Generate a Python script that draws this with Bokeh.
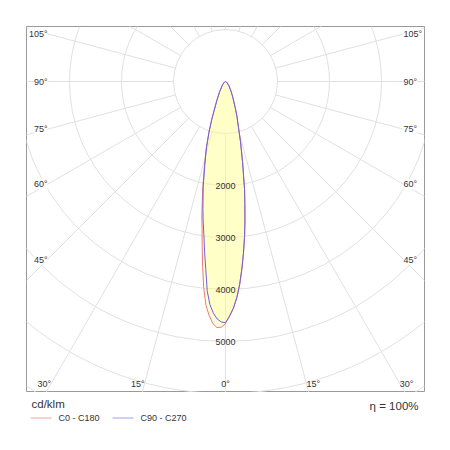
import math
from bokeh.plotting import figure
from bokeh.layouts import column
from bokeh.models import Range1d
from bokeh.core.properties import value
from bokeh.embed import file_html
from bokeh.resources import INLINE

# polar intensity curves, cd/klm, gamma measured from nadir
gamma = [0, 1, 2, 3, 4, 5, 6, 7, 8, 9, 10, 12, 14, 16, 18, 20, 25, 30, 40, 50, 60, 70, 80, 90]
i_c0 = [4650, 4515, 4365, 4165, 3915, 3620, 3315, 3010, 2695, 2380, 2115, 1580, 1195, 895, 722, 562, 332, 212, 96, 45, 20, 8, 3, 0]
i_c180 = [4660, 4725, 4735, 4660, 4510, 4320, 4000, 3600, 3220, 2880, 2620, 2110, 1670, 1350, 1040, 775, 385, 222, 96, 45, 20, 8, 3, 0]
i_c90 = [4640, 4510, 4360, 4160, 3910, 3615, 3310, 3005, 2690, 2375, 2110, 1575, 1190, 890, 720, 560, 330, 210, 95, 45, 20, 8, 3, 0]
i_c270 = [4640, 4625, 4570, 4460, 4300, 4040, 3630, 3300, 2985, 2740, 2505, 2065, 1640, 1330, 1025, 765, 380, 220, 95, 45, 20, 8, 3, 0]

rings = [1000, 2000, 3000, 4000, 5000, 6000, 7000]
ring_labels = [2000, 3000, 4000, 5000]
side_angles = [45, 60, 75, 90, 105]
bottom_angles = [0, 15, 30]
curve_names = ["C0 - C180", "C90 - C270"]
curve_colors = ["#f07878", "#6f5fe0"]
legend_colors = ["#f4a0a0", "#a0a0f0"]
eta_text = "\u03b7 = 100%"
unit_text = "cd/klm"

PX = 1000 / 52.0  # data units per pixel
FONT = "Liberation Sans"
GRID = "#e0e0e0"
TXT = "#333333"


def half(values, sign):
    xs, ys = [], []
    for g, v in zip(gamma, values):
        a = math.radians(g)
        xs.append(sign * v * math.sin(a))
        ys.append(-v * math.cos(a))
    return xs, ys


def closed(left, right):
    lx, ly = half(left, -1)
    rx, ry = half(right, 1)
    return lx[::-1] + rx, ly[::-1] + ry


p = figure(frame_width=398, frame_height=366, output_backend="svg", toolbar_location=None,
           x_axis_location=None, y_axis_location=None,
           x_range=Range1d(-199 * PX, 199 * PX), y_range=Range1d(-311 * PX, 55 * PX),
           min_border_left=26, min_border_right=18, min_border_top=26, min_border_bottom=0)
p.grid.visible = False
p.outline_line_color = "#999999"
p.outline_line_width = 1

# grid: rays every 15 degrees, starting at the first ring
ray_xs, ray_ys = [], []
for k in range(24):
    a = math.radians(k * 15)
    ray_xs.append([rings[0] * math.sin(a), 20000 * math.sin(a)])
    ray_ys.append([-rings[0] * math.cos(a), -20000 * math.cos(a)])
p.multi_line(ray_xs, ray_ys, line_color=GRID, line_width=1)
p.circle(x=[0] * len(rings), y=[0] * len(rings), radius=rings, fill_color=None,
         line_color=GRID, line_width=1)

# curves
x0, y0 = closed(i_c180, i_c0)
x90, y90 = closed(i_c270, i_c90)
p.patch(x0, y0, fill_color="#ffff80", fill_alpha=0.25, line_color=None)
p.patch(x90, y90, fill_color="#ffff80", fill_alpha=0.25, line_color=None)
p.line(x0, y0, line_color=curve_colors[0], line_width=1)
p.line(x90, y90, line_color=curve_colors[1], line_width=1)

# ring values
p.text(x=[0] * len(ring_labels), y=[-v for v in ring_labels], text=[str(v) for v in ring_labels],
       text_align="center", text_baseline="middle", text_font=value(FONT),
       text_font_size="9px", text_color=TXT)

# angle labels on the sides
d = 178 * PX
sy = [-d * math.cos(math.radians(g)) / math.sin(math.radians(g)) for g in side_angles]
st = [f"{g}\u00b0" for g in side_angles]
for sgn, align in ((-1, "right"), (1, "left")):
    p.text(x=[sgn * d] * len(side_angles), y=sy, text=st, text_align=align, text_baseline="middle",
           text_font=value(FONT), text_font_size="9px", text_color=TXT,
           background_fill_color="white")

# angle labels at the bottom
D = 302 * PX
for g in bottom_angles:
    dx = D * math.tan(math.radians(g))
    sides = [(0, "center")] if g == 0 else [(-1, "right"), (1, "left")]
    for sgn, align in sides:
        p.text(x=[sgn * dx], y=[-D], text=[f"{g}\u00b0"], text_align=align, text_baseline="middle",
               text_font=value(FONT), text_font_size="9px", text_color=TXT)

# strip under the diagram: unit, legend and efficiency
s = figure(frame_width=398, frame_height=40, output_backend="svg", toolbar_location=None,
           x_axis_location=None, y_axis_location=None,
           x_range=Range1d(0, 398), y_range=Range1d(40, 0),
           min_border_left=26, min_border_right=18, min_border_top=0, min_border_bottom=0)
s.grid.visible = False
s.outline_line_color = None
s.text(x=[5], y=[11], text=[unit_text], text_align="left", text_baseline="middle",
       text_font=value(FONT), text_font_size="11.5px", text_color=TXT)
s.text(x=[392], y=[13], text=[eta_text], text_align="right", text_baseline="middle",
       text_font=value(FONT), text_font_size="11.5px", text_color=TXT)
for k, (name, col) in enumerate(zip(curve_names, legend_colors)):
    x_start = 4 + k * 82
    s.line([x_start, x_start + 21], [25.5, 25.5], line_color=col, line_width=1)
    s.text(x=[x_start + 28], y=[25], text=[name], text_align="left", text_baseline="middle",
           text_font=value(FONT), text_font_size="9px", text_color=TXT)

layout = column(p, s, spacing=0)
open("out.html", "w").write(file_html(layout, INLINE))
